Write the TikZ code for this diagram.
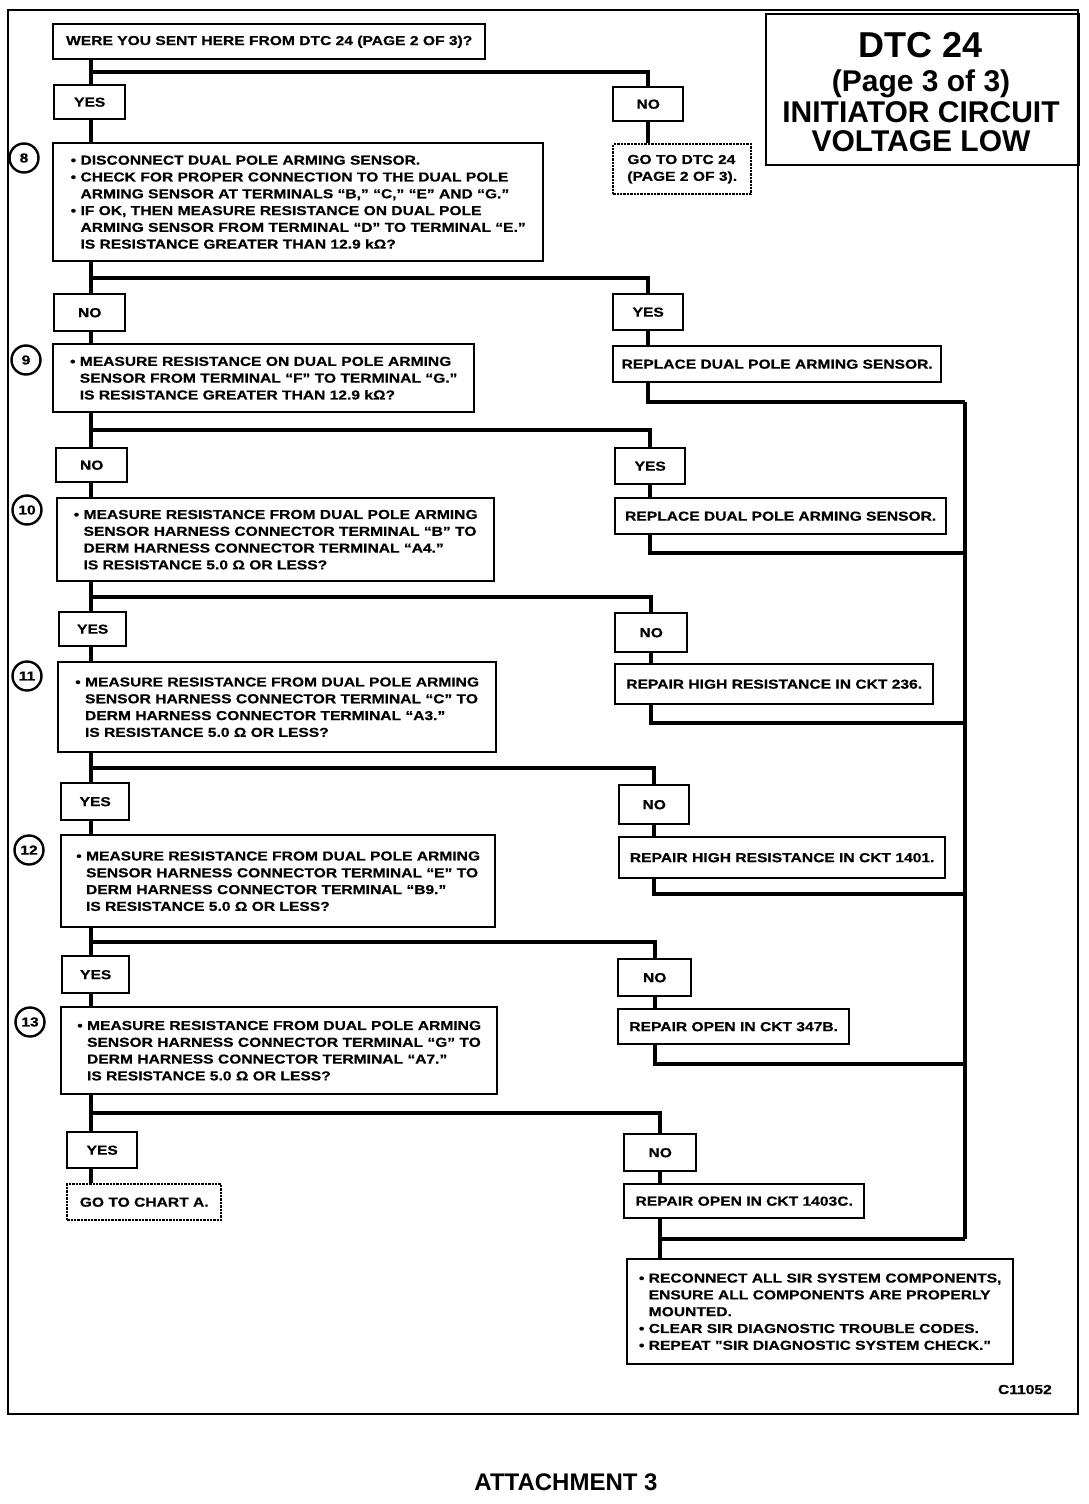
\documentclass[tikz,border=0pt]{standalone}
\usepackage{fontspec}
\setmainfont{Liberation Sans}
\newfontfamily\bx{Liberation Sans}[FakeStretch=1.2,FakeBold=0.6]
\usetikzlibrary{calc}
\newcommand\hind{\hphantom{•\ }}
\begin{document}
\begin{tikzpicture}[x=1pt,y=-1pt,
  box/.style={draw, line width=2.4pt, inner xsep=0pt, inner ysep=0pt, anchor=north west, align=left,
    font=\bx\bfseries\fontsize{13}{16.8}\selectfont},
  ans/.style={box, align=center},
  gotobox/.style={box, densely dotted},
  conn/.style={line width=4pt},
  num/.style={draw, circle, line width=2.4pt, minimum size=29pt, inner sep=0pt,
    font=\bx\bfseries\fontsize{13}{13}\selectfont},
  ttl/.style={anchor=base, inner sep=0pt, font=\bfseries}]
\useasboundingbox (0,0) rectangle (1088,1504);
\draw[line width=2.4pt] (8,10) rectangle (1078,1414);
\coordinate (trunk) at (91,0);
\coordinate (col) at (965,0);

% title
\node[box, minimum width=313pt, minimum height=151pt] (title) at (765,13) {};
\node[ttl, font=\bfseries\fontsize{36}{36}\selectfont] (t1) at (921,58) {DTC 24};
\node[ttl, font=\bfseries\fontsize{30}{30}\selectfont] (t2) at (921,92) {(Page 3 of 3)};
\node[ttl, font=\bfseries\fontsize{30}{30}\selectfont] (t3) at (921,122) {INITIATOR CIRCUIT};
\node[ttl, font=\bfseries\fontsize{30}{30}\selectfont] (t4) at (921,151) {VOLTAGE LOW};

% boxes
\node[box, minimum width=432pt, minimum height=35pt] (q0) at (52,23) {WERE YOU SENT HERE FROM DTC 24 (PAGE 2 OF 3)?};
\node[ans, minimum width=71pt, minimum height=34pt] (y1) at (53,84) {YES};
\node[ans, minimum width=70pt, minimum height=34pt] (n1) at (612,86) {NO};
\node[gotobox, minimum width=138pt, minimum height=50pt] (g1) at (612,143) {GO TO DTC 24\\(PAGE 2 OF 3).};

\node[num] (c8) at (24,158) {8};
\node[box, minimum width=490pt, minimum height=118pt] (q8) at (52,142) {• DISCONNECT DUAL POLE ARMING SENSOR.\\
• CHECK FOR PROPER CONNECTION TO THE DUAL POLE\\
\hind ARMING SENSOR AT TERMINALS “B,” “C,” “E” AND “G.”\\
• IF OK, THEN MEASURE RESISTANCE ON DUAL POLE\\
\hind ARMING SENSOR FROM TERMINAL “D” TO TERMINAL “E.”\\
\hind IS RESISTANCE GREATER THAN 12.9 kΩ?};
\node[ans, minimum width=71pt, minimum height=37pt] (a2L) at (53,293) {NO};
\node[ans, minimum width=70pt, minimum height=36pt] (a2R) at (612,293) {YES};
\node[box, minimum width=328pt, minimum height=36pt] (r2) at (612,345) {REPLACE DUAL POLE ARMING SENSOR.};

\node[num] (c9) at (26,360) {9};
\node[box, minimum width=421pt, minimum height=68pt] (q9) at (52,343) {• MEASURE RESISTANCE ON DUAL POLE ARMING\\
\hind SENSOR FROM TERMINAL “F” TO TERMINAL “G.”\\
\hind IS RESISTANCE GREATER THAN 12.9 kΩ?};
\node[ans, minimum width=71pt, minimum height=34pt] (a3L) at (55,447) {NO};
\node[ans, minimum width=70pt, minimum height=36pt] (a3R) at (614,447) {YES};
\node[box, minimum width=331pt, minimum height=36pt] (r3) at (614,497) {REPLACE DUAL POLE ARMING SENSOR.};

\node[num] (c10) at (27,510) {10};
\node[box, minimum width=437pt, minimum height=83pt] (q10) at (56,497) {• MEASURE RESISTANCE FROM DUAL POLE ARMING\\
\hind SENSOR HARNESS CONNECTOR TERMINAL “B” TO\\
\hind DERM HARNESS CONNECTOR TERMINAL “A4.”\\
\hind IS RESISTANCE 5.0 Ω OR LESS?};
\node[ans, minimum width=67pt, minimum height=34pt] (a4L) at (58,611) {YES};
\node[ans, minimum width=72pt, minimum height=39pt] (a4R) at (614,612) {NO};
\node[box, minimum width=318pt, minimum height=40pt] (r4) at (614,663) {REPAIR HIGH RESISTANCE IN CKT 236.};

\node[num] (c11) at (27,676) {11};
\node[box, minimum width=438pt, minimum height=90pt] (q11) at (57,661) {• MEASURE RESISTANCE FROM DUAL POLE ARMING\\
\hind SENSOR HARNESS CONNECTOR TERMINAL “C” TO\\
\hind DERM HARNESS CONNECTOR TERMINAL “A3.”\\
\hind IS RESISTANCE 5.0 Ω OR LESS?};
\node[ans, minimum width=68pt, minimum height=37pt] (a5L) at (60,782) {YES};
\node[ans, minimum width=70pt, minimum height=39pt] (a5R) at (618,784) {NO};
\node[box, minimum width=326pt, minimum height=41pt] (r5) at (618,836) {REPAIR HIGH RESISTANCE IN CKT 1401.};

\node[num] (c12) at (29,850) {12};
\node[box, minimum width=434pt, minimum height=92pt] (q12) at (60,834) {• MEASURE RESISTANCE FROM DUAL POLE ARMING\\
\hind SENSOR HARNESS CONNECTOR TERMINAL “E” TO\\
\hind DERM HARNESS CONNECTOR TERMINAL “B9.”\\
\hind IS RESISTANCE 5.0 Ω OR LESS?};
\node[ans, minimum width=67pt, minimum height=37pt] (a6L) at (61,955) {YES};
\node[ans, minimum width=73pt, minimum height=37pt] (a6R) at (617,958) {NO};
\node[box, minimum width=231pt, minimum height=35pt] (r6) at (617,1008) {REPAIR OPEN IN CKT 347B.};

\node[num] (c13) at (30,1022) {13};
\node[box, minimum width=436pt, minimum height=87pt] (q13) at (60,1006) {• MEASURE RESISTANCE FROM DUAL POLE ARMING\\
\hind SENSOR HARNESS CONNECTOR TERMINAL “G” TO\\
\hind DERM HARNESS CONNECTOR TERMINAL “A7.”\\
\hind IS RESISTANCE 5.0 Ω OR LESS?};
\node[ans, minimum width=70pt, minimum height=36pt] (a7L) at (66,1131) {YES};
\node[ans, minimum width=72pt, minimum height=37pt] (a7R) at (623,1133) {NO};
\node[gotobox, minimum width=154pt, minimum height=36pt] (g7) at (66,1183) {GO TO CHART A.};
\node[box, minimum width=240pt, minimum height=34pt] (r7) at (623,1183) {REPAIR OPEN IN CKT 1403C.};

\node[box, minimum width=386pt, minimum height=105pt] (fin) at (626,1258) {• RECONNECT ALL SIR SYSTEM COMPONENTS,\\
\hind ENSURE ALL COMPONENTS ARE PROPERLY\\
\hind MOUNTED.\\
• CLEAR SIR DIAGNOSTIC TROUBLE CODES.\\
• REPEAT "SIR DIAGNOSTIC SYSTEM CHECK."};

\node[anchor=base east, inner sep=0pt, font=\bx\bfseries\fontsize{13}{13}\selectfont] (code) at (1052,1394) {C11052};
\node[anchor=base, inner sep=0pt, font=\bfseries\fontsize{24}{24}\selectfont] (att) at (566,1490) {ATTACHMENT 3};

% connectors: left trunk
\draw[conn] (q0.south -| trunk) -- (y1.north -| trunk);
\draw[conn] ($(q0.south -| trunk)!.5!(y1.north -| trunk)$) -| (n1.north);
\draw[conn] (n1.south) -- (g1.north -| n1.south);
\draw[conn] (y1.south -| trunk) -- (q8.north -| trunk);

\draw[conn] (q8.south -| trunk) -- (a2L.north -| trunk);
\draw[conn] ($(q8.south -| trunk)!.5!(a2L.north -| trunk)$) -| (a2R.north);
\draw[conn] (a2L.south -| trunk) -- (q9.north -| trunk);
\draw[conn] (a2R.south) -- (r2.north -| a2R.south);

\draw[conn] (q9.south -| trunk) -- (a3L.north -| trunk);
\draw[conn] ($(q9.south -| trunk)!.5!(a3L.north -| trunk)$) -| (a3R.north);
\draw[conn] (a3L.south -| trunk) -- (q10.north -| trunk);
\draw[conn] (a3R.south) -- (r3.north -| a3R.south);

\draw[conn] (q10.south -| trunk) -- (a4L.north -| trunk);
\draw[conn] ($(q10.south -| trunk)!.5!(a4L.north -| trunk)$) -| (a4R.north);
\draw[conn] (a4L.south -| trunk) -- (q11.north -| trunk);
\draw[conn] (a4R.south) -- (r4.north -| a4R.south);

\draw[conn] (q11.south -| trunk) -- (a5L.north -| trunk);
\draw[conn] ($(q11.south -| trunk)!.5!(a5L.north -| trunk)$) -| (a5R.north);
\draw[conn] (a5L.south -| trunk) -- (q12.north -| trunk);
\draw[conn] (a5R.south) -- (r5.north -| a5R.south);

\draw[conn] (q12.south -| trunk) -- (a6L.north -| trunk);
\draw[conn] ($(q12.south -| trunk)!.5!(a6L.north -| trunk)$) -| (a6R.north);
\draw[conn] (a6L.south -| trunk) -- (q13.north -| trunk);
\draw[conn] (a6R.south) -- (r6.north -| a6R.south);

\draw[conn] (q13.south -| trunk) -- (a7L.north -| trunk);
\draw[conn] ($(q13.south -| trunk)!.5!(a7L.north -| trunk)$) -| (a7R.north);
\draw[conn] (a7L.south -| trunk) -- (g7.north -| trunk);
\draw[conn] (a7R.south) -- (r7.north -| a7R.south);

% returns to collector
\draw[conn] (r2.south -| a2R.south) |- ([yshift=-19pt]r2.south -| col);
\draw[conn] (r3.south -| a3R.south) |- ([yshift=-18pt]r3.south -| col);
\draw[conn] (r4.south -| a4R.south) |- ([yshift=-18pt]r4.south -| col);
\draw[conn] (r5.south -| a5R.south) |- ([yshift=-15pt]r5.south -| col);
\draw[conn] (r6.south -| a6R.south) |- ([yshift=-19pt]r6.south -| col);
\draw[conn] (r7.south -| a7R.south) |- ([yshift=-20pt]r7.south -| col);
\draw[conn] ([yshift=-19pt]r2.south -| col) -- ([yshift=-20pt]r7.south -| col);
\draw[conn] ([yshift=-20pt]r7.south -| a7R.south) -- (fin.north -| a7R.south);
\end{tikzpicture}
\end{document}
